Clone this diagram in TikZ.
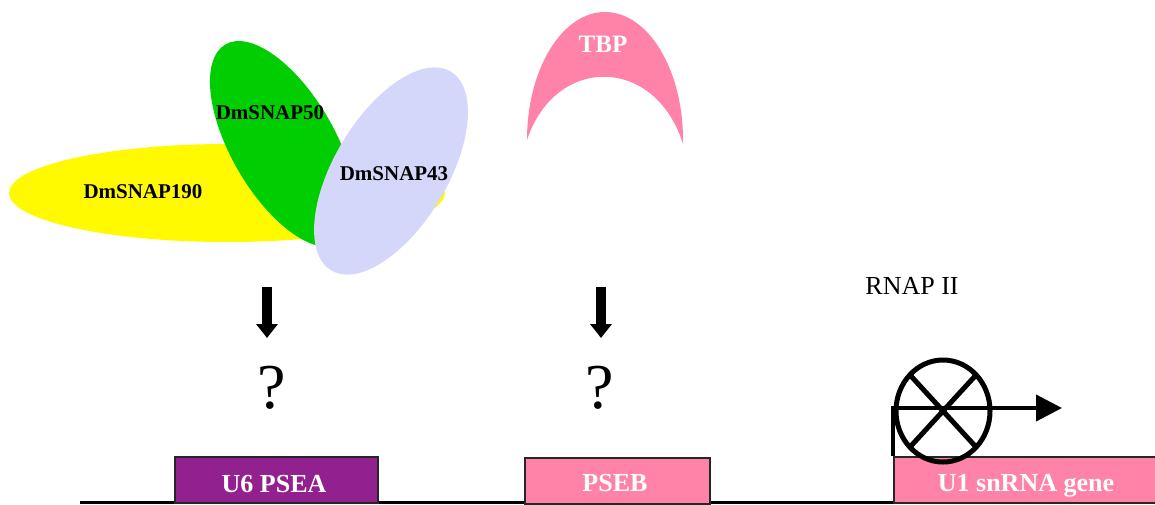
\documentclass[tikz,border=0pt]{standalone}
\usepackage{fontspec}
\setmainfont{Liberation Serif}
\usetikzlibrary{arrows.meta}
\definecolor{snapyellow}{RGB}{255,250,0}
\definecolor{snapgreen}{RGB}{0,206,0}
\definecolor{snaplav}{RGB}{213,215,250}
\definecolor{tbppink}{RGB}{255,130,168}
\definecolor{psepurple}{RGB}{147,32,143}
\begin{document}
\begin{tikzpicture}[x=1pt,y=-1pt,
  protlabel/.style={font=\fontsize{21}{21}\selectfont\bfseries, anchor=base, inner sep=0pt},
  boxlabel/.style={font=\fontsize{26}{26}\selectfont\bfseries, text=white, anchor=base, inner sep=0pt},
  elembox/.style={draw=black!85, line width=1.5pt, inner sep=0pt, anchor=north west, minimum height=46pt},
  qmark/.style={font=\fontsize{64}{64}\selectfont, anchor=base, inner sep=0pt},
  downarrow/.style={line width=10pt, -{Triangle[length=14pt,width=21pt]}},
  thickline/.style={line width=5pt},
]
\useasboundingbox (0,0) rectangle (1155,504);

% proteins
\fill[snapyellow] (227,193) ellipse [x radius=218pt, y radius=49pt];
\fill[snapgreen, rotate around={-60:(283,144)}] (283,144) ellipse [x radius=115pt, y radius=52pt];
\fill[snaplav, rotate around={59:(391,171)}] (391,171) ellipse [x radius=116pt, y radius=56.5pt];
\node[protlabel] (snap50) at (270,119) {DmSNAP50};
\node[protlabel] (snap190) at (143,198) {DmSNAP190};
\node[protlabel] (snap43) at (394,180) {DmSNAP43};

% TBP
\fill[tbppink] (527,140) arc[start angle=180, end angle=0, x radius=78pt, y radius=128pt]
  -- (683,144) .. controls (655,55) and (555,55) .. (527,140) -- cycle;
\node[font=\fontsize{25}{25}\selectfont\bfseries, text=white, anchor=base, inner sep=0pt] (tbp) at (603,52) {TBP};

% arrows and question marks
\coordinate (a1s) at (267,287);
\coordinate (a1e) at (267,338);
\coordinate (a2s) at (601,287);
\coordinate (a2e) at (601,338);
\draw[downarrow] (a1s) -- (a1e);
\draw[downarrow] (a2s) -- (a2e);
\node[qmark] (q1) at (272,408) {?};
\node[qmark] (q2) at (600,408) {?};

% DNA
\coordinate (dnaL) at (80,502.5);
\coordinate (dnaR) at (1160,502.5);
\draw[line width=2.5pt] (dnaL) -- (dnaR);
\node[elembox, fill=psepurple, minimum width=203pt] (psea) at (174,456) {};
\node[elembox, fill=tbppink, minimum width=185pt] (pseb) at (524,457) {};
\node[elembox, fill=tbppink, minimum width=280pt] (u1) at (893,456) {};
\node[boxlabel] (pseatxt) at (274,492) {U6 PSEA};
\node[boxlabel] (psebtxt) at (615,491) {PSEB};
\node[boxlabel] (u1txt) at (1026,491) {U1 snRNA gene};

% RNAP II
\node[font=\fontsize{26}{26}\selectfont, anchor=base, inner sep=0pt] (rnap) at (912,294) {RNAP II};
\draw[thickline] (943,411) ellipse [x radius=47pt, y radius=51pt];
\draw[thickline] (976,375) -- (910,447);
\draw[thickline] (910,375) -- (976,447);
\coordinate (bend) at (893,408);
\coordinate (tss) at (1062,408);
\draw[line width=4pt, -{Triangle[length=26pt,width=26pt]}] (u1.north west) -- (bend) -- (tss);
\end{tikzpicture}
\end{document}
